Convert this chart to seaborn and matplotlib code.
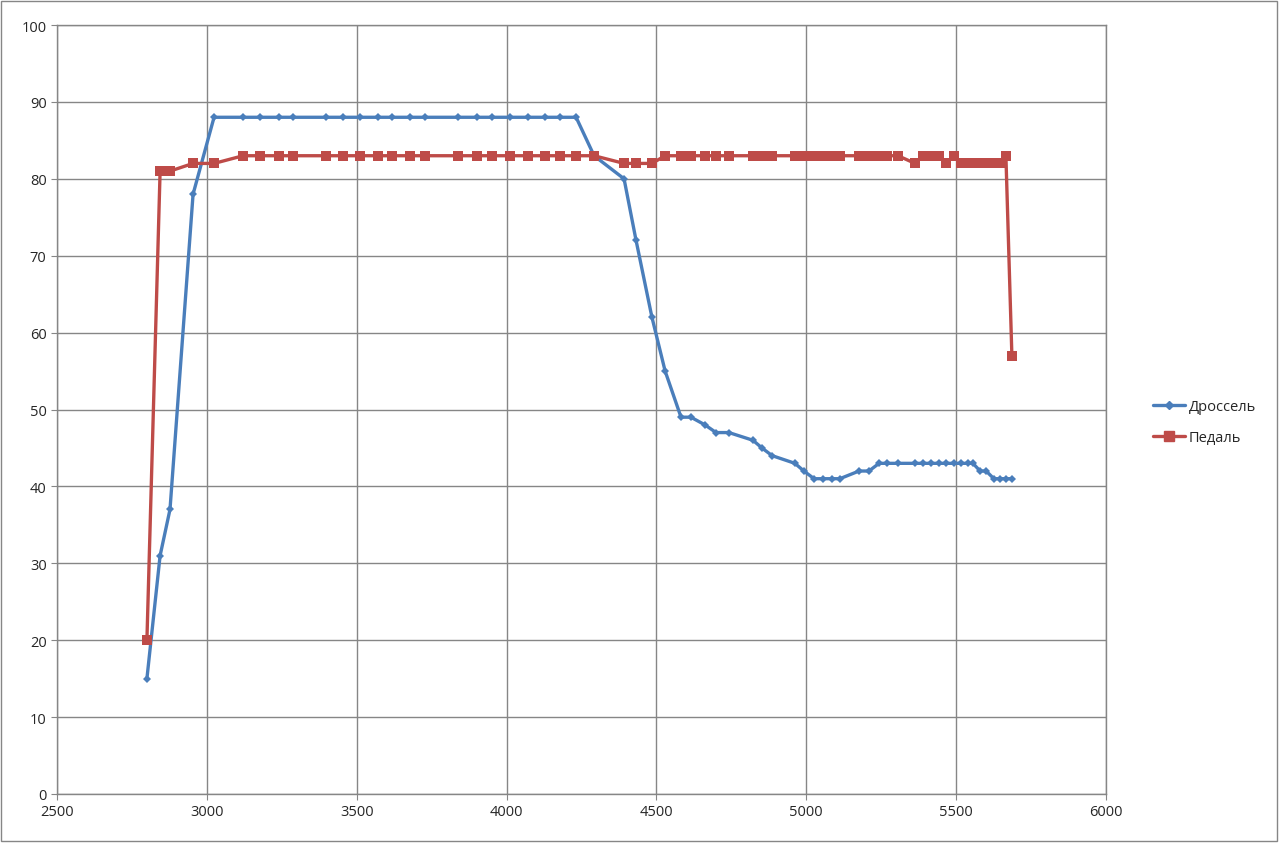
import numpy as np
import pandas as pd
import seaborn as sb
import matplotlib.pyplot as plt
from matplotlib.patches import Rectangle

# shared x values (rpm-ish)
x_vals = [2800, 2844, 2877, 2954, 3024, 3121, 3177, 3241, 3287, 3398,
          3454, 3511, 3571, 3618, 3678, 3728, 3838, 3901, 3951, 4011,
          4072, 4128, 4178, 4232, 4292, 4392, 4432, 4485, 4529, 4582,
          4615, 4662, 4699, 4742, 4822, 4852, 4886, 4962, 4992, 5026,
          5056, 5086, 5112, 5176, 5209, 5243, 5269, 5306, 5363, 5389,
          5416, 5443, 5466, 5493, 5516, 5540, 5556, 5580, 5600, 5626,
          5646, 5666, 5686]

throttle = [15, 31, 37, 78, 88, 88, 88, 88, 88, 88,
            88, 88, 88, 88, 88, 88, 88, 88, 88, 88,
            88, 88, 88, 88, 83, 80, 72, 62, 55, 49,
            49, 48, 47, 47, 46, 45, 44, 43, 42, 41,
            41, 41, 41, 42, 42, 43, 43, 43, 43, 43,
            43, 43, 43, 43, 43, 43, 43, 42, 42, 41,
            41, 41, 41]

pedal = [20, 81, 81, 82, 82, 83, 83, 83, 83, 83,
         83, 83, 83, 83, 83, 83, 83, 83, 83, 83,
         83, 83, 83, 83, 83, 82, 82, 82, 83, 83,
         83, 83, 83, 83, 83, 83, 83, 83, 83, 83,
         83, 83, 83, 83, 83, 83, 83, 83, 82, 83,
         83, 83, 82, 83, 82, 82, 82, 82, 82, 82,
         82, 83, 57]

series_names = ['Дроссель', 'Педаль']

df = pd.DataFrame({
    'x': x_vals * 2,
    'val': throttle + pedal,
    'series': [series_names[0]] * len(x_vals) + [series_names[1]] * len(x_vals),
})

sb.set_style('white')
plt.rcParams['font.family'] = ['Open Sans', 'DejaVu Sans']

fig = plt.figure(figsize=(12.8, 8.45), dpi=100)
ax = fig.add_axes([57 / 1280, 1 - 795 / 845, (1106 - 57) / 1280, (795 - 26) / 845])

colors = {'Дроссель': '#4A7EBB', 'Педаль': '#BE4B48'}
sb.lineplot(data=df, x='x', y='val', hue='series', style='series',
            markers={'Дроссель': 'D', 'Педаль': 's'}, dashes=False,
            palette=colors, estimator=None, linewidth=2.4,
            markeredgewidth=0, ax=ax, legend=False)
for ln, ms in zip(ax.lines, [4.2, 6.5]):
    ln.set_markersize(ms)

ax.set_xlim(2500, 6000)
ax.set_ylim(0, 100)
ax.set_xticks(np.arange(2500, 6001, 500))
ax.set_yticks(np.arange(0, 101, 10))
ax.grid(True, color='#868686', linewidth=1)
ax.set_axisbelow(True)
for sp in ax.spines.values():
    sp.set_color('#868686')
    sp.set_linewidth(1)
ax.tick_params(axis='both', labelsize=10.5, color='#868686', length=4,
               direction='out', left=True, bottom=True)
ax.set_xlabel('')
ax.set_ylabel('')

# legend on the right
handles = [plt.Line2D([], [], color=colors['Дроссель'], marker='D', markersize=4.2, linewidth=2.4),
           plt.Line2D([], [], color=colors['Педаль'], marker='s', markersize=6.5, linewidth=2.4)]
fig.legend(handles, series_names, loc='center left', frameon=False,
           bbox_to_anchor=(1140 / 1280, 1 - 423 / 845), fontsize=10.5,
           handlelength=2.2, labelspacing=1.1, handletextpad=0.25)

# outer chart border
fig.patches.append(Rectangle((0.001, 0.004), 0.997, 0.994, transform=fig.transFigure,
                             fill=False, edgecolor='#868686', linewidth=1))

fig.savefig('out.png', dpi=100)
